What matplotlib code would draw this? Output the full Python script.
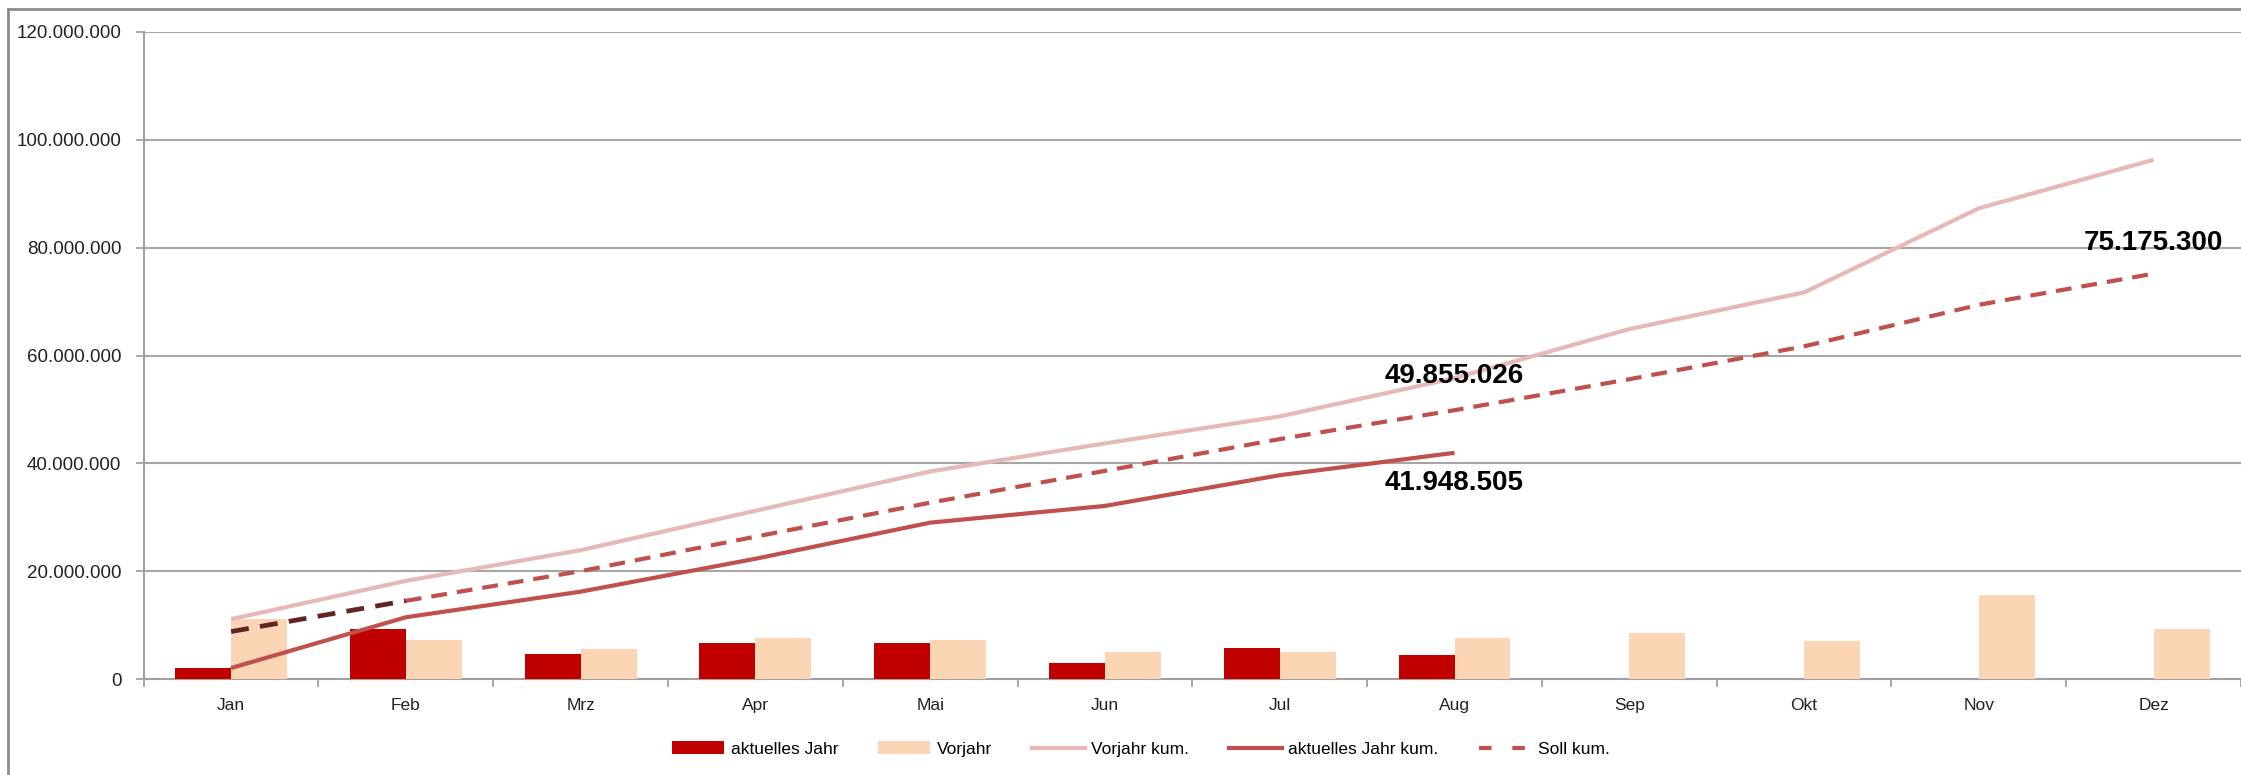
import numpy as np
import matplotlib
matplotlib.use('Agg')
import matplotlib.pyplot as plt
import matplotlib.ticker as mticker
from matplotlib import font_manager
from matplotlib.lines import Line2D
from matplotlib.patches import Patch

# Werte in Mio. Euro
MONATE = ['Jan', 'Feb', 'Mrz', 'Apr', 'Mai', 'Jun', 'Jul', 'Aug', 'Sep', 'Okt', 'Nov', 'Dez']
akt_jahr = [2.04, 9.33, 4.58, 6.62, 6.60, 2.90, 5.70, 4.45]
vorjahr = [11.10, 7.18, 5.57, 7.55, 7.30, 5.10, 5.10, 7.55, 8.60, 7.00, 15.50, 9.20]
vorjahr_kum = [11.1, 18.2, 23.9, 31.2, 38.5, 43.7, 48.7, 55.8, 64.9, 71.7, 87.3, 96.3]
akt_jahr_kum = [2.04, 11.45, 16.2, 22.3, 29.0, 32.1, 37.8, 41.948505]
soll_kum = [8.8, 14.5, 20.0, 26.4, 32.7, 38.6, 44.5, 49.855026, 55.6, 61.7, 69.4, 75.1753]

COLORS = {
    'akt':      '#C00000',
    'vj':       '#FCD5B4',
    'vj_kum':   '#E6B9B8',
    'akt_kum':  '#C0504D',
    'soll':     '#C0504D',
    'soll_dark': '#632523',
}

plt.rcParams.update({
    'font.family': ['Liberation Sans', 'DejaVu Sans'],
    'font.size': 12,
})

# schmale Schrift fuer die Werte, falls vorhanden
try:
    font_manager.findfont(font_manager.FontProperties(family='Liberation Sans Narrow', weight='bold'),
                          fallback_to_default=False)
    LAB_FONT, LAB_SIZE = 'Liberation Sans Narrow', 23
except Exception:
    LAB_FONT, LAB_SIZE = 'Liberation Sans', 20

W, H = 2241, 775
fig = plt.figure(figsize=(W / 100, H / 100), dpi=100)
ax = fig.add_axes([143.7 / W, 96 / H, (W - 143.7) / W, 647 / H])

x = np.arange(len(MONATE))
scale = 1e6
bw = 0.32

ax.bar(x[:len(akt_jahr)] - bw / 2, np.array(akt_jahr) * scale, width=bw,
       color=COLORS['akt'], zorder=3)
ax.bar(x + bw / 2, np.array(vorjahr) * scale, width=bw, color=COLORS['vj'], zorder=3)

lw = 3.0
ax.plot(x, np.array(vorjahr_kum) * scale, color=COLORS['vj_kum'], lw=lw, zorder=4,
        solid_capstyle='butt')
ax.plot(x[:len(akt_jahr_kum)], np.array(akt_jahr_kum) * scale, color=COLORS['akt_kum'],
        lw=lw, zorder=5, solid_capstyle='butt')
soll = np.array(soll_kum) * scale
ax.plot(x[1:], soll[1:], color=COLORS['soll'], lw=lw, dashes=(3.8, 2.4), zorder=5)
ax.plot(x[:2], soll[:2], color=COLORS['soll_dark'], lw=lw + 0.4, dashes=(3.8, 2.4), zorder=5)

# Beschriftungen
lab = dict(fontsize=LAB_SIZE, fontweight='bold', family=[LAB_FONT, 'Liberation Sans'],
           ha='center', va='center', textcoords='offset pixels', zorder=6)
i_aug = len(akt_jahr_kum) - 1
ax.annotate(f"{soll_kum[i_aug] * 1e6:,.0f}".replace(',', '.'),
            (x[i_aug], soll[i_aug]), xytext=(0, 34), **lab)
ax.annotate(f"{akt_jahr_kum[-1] * 1e6:,.0f}".replace(',', '.'),
            (x[i_aug], akt_jahr_kum[-1] * scale), xytext=(0, -30), **lab)
ax.annotate(f"{soll_kum[-1] * 1e6:,.0f}".replace(',', '.'),
            (x[-1], soll[-1]), xytext=(0, 31), **lab)

# Achsen
ax.set_xlim(-0.5, 11.5)
ax.set_ylim(0, 120e6)
ax.yaxis.set_major_locator(mticker.MultipleLocator(20e6))
ax.yaxis.set_major_formatter(mticker.FuncFormatter(lambda v, p: f"{v:,.0f}".replace(',', '.')))
ax.set_xticks(x)
ax.set_xticklabels(MONATE)
ax.set_xticks(np.arange(-0.5, 12, 1), minor=True)
ax.tick_params(axis='x', which='major', length=0, pad=14, labelsize=12.5, colors='#222222')
ax.tick_params(axis='x', which='minor', length=6, width=1.2, color='#999999')
ax.tick_params(axis='y', length=6, width=1.2, color='#999999', pad=10,
               labelsize=13.5, labelcolor='#222222')

ax.grid(axis='y', color='#A6A6A6', lw=1.5, zorder=0)
ax.set_axisbelow(True)
for s in ['top', 'right']:
    ax.spines[s].set_visible(False)
for s in ['left', 'bottom']:
    ax.spines[s].set_color('#A0A0A0')
    ax.spines[s].set_linewidth(1.5)

# Legende
handles = [
    Patch(facecolor=COLORS['akt'], label='aktuelles Jahr'),
    Patch(facecolor=COLORS['vj'], label='Vorjahr'),
    Line2D([], [], color=COLORS['vj_kum'], lw=lw, label='Vorjahr kum.'),
    Line2D([], [], color=COLORS['akt_kum'], lw=lw, label='aktuelles Jahr kum.'),
    Line2D([], [], color=COLORS['soll'], lw=lw, dashes=(3.0, 5.0), label='Soll kum.'),
]
fig.legend(handles=handles, loc='center', bbox_to_anchor=(0.509, 26 / H), ncol=5,
           frameon=False, fontsize=12.5, handlelength=3.0, handleheight=0.7,
           handletextpad=0.4, columnspacing=2.3)

# Rahmen des Diagrammbereichs (rechts/unten abgeschnitten)
fig.add_artist(Line2D([7.5 / W, 7.5 / W], [0, (H - 8.5) / H], color='#8C8C8C', lw=2,
                      transform=fig.transFigure))
fig.add_artist(Line2D([7.5 / W, 1], [(H - 8.5) / H, (H - 8.5) / H], color='#8C8C8C', lw=2,
                      transform=fig.transFigure))

fig.savefig('out.png', dpi=100, facecolor='white')
